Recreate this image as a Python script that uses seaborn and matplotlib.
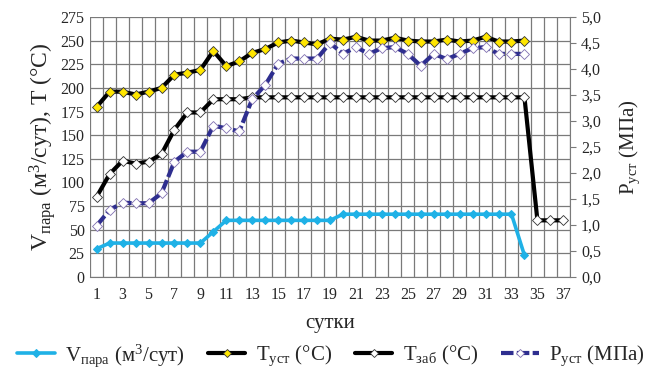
import numpy as np
import pandas as pd
import matplotlib
matplotlib.use('Agg')
import matplotlib.pyplot as plt
from matplotlib.ticker import MultipleLocator, FuncFormatter
import seaborn as sns

# данные
days = list(range(1, 38))
v_para = [30, 36, 36, 36, 36, 36, 36, 36, 36, 48,
          60, 60, 60, 60, 60, 60, 60, 60, 60, 66.5,
          66.5, 66.5, 66.5, 66.5, 66.5, 66.5, 66.5, 66.5, 66.5, 66.5,
          66.5, 66.5, 66.5, 23]
t_ust = [180, 196, 196, 193, 196, 200, 214, 216, 219, 239,
         223, 228, 237, 241, 248, 250, 248, 246, 252, 251,
         254, 250, 250, 253, 250, 249, 249, 251, 249, 250,
         254, 249, 249, 250]
t_zab = [85, 109, 123, 120, 122, 130, 156, 174, 174, 188,
         188, 188, 190, 190, 190, 190, 190, 190, 190, 190,
         190, 190, 190, 190, 190, 190, 190, 190, 190, 190,
         190, 190, 190, 190, 60, 60, 60]
p_ust = [0.99, 1.29, 1.43, 1.42, 1.42, 1.61, 2.22, 2.41, 2.41, 2.91,
         2.86, 2.80, 3.42, 3.69, 4.10, 4.20, 4.20, 4.20, 4.50, 4.29,
         4.42, 4.29, 4.40, 4.42, 4.29, 4.06, 4.29, 4.19, 4.29, 4.40,
         4.42, 4.29, 4.29, 4.29]

sns.set_style('white')
plt.rcParams['font.family'] = ['Liberation Serif', 'DejaVu Serif']
plt.rcParams['mathtext.fontset'] = 'custom'
plt.rcParams['mathtext.rm'] = 'Liberation Serif'
plt.rcParams['mathtext.it'] = 'Liberation Serif:italic'

fig = plt.figure(figsize=(6.49, 3.76), dpi=100)
ax = fig.add_axes([0.139, 0.263, 0.739, 0.692])
ax2 = ax.twinx()

c_v = '#1FB1E6'
c_p = '#2E2E8F'

sns.lineplot(x=days[:len(v_para)], y=v_para, ax=ax, color=c_v, lw=2.6,
             marker='D', markersize=4.5, markerfacecolor=c_v, markeredgecolor=c_v)
sns.lineplot(x=days[:len(t_ust)], y=t_ust, ax=ax, color='black', lw=3,
             marker='D', markersize=5.5, markerfacecolor='#FFE600', markeredgecolor='#333333',
             markeredgewidth=0.6)
sns.lineplot(x=days[:len(t_zab)], y=t_zab, ax=ax, color='black', lw=3,
             marker='D', markersize=5.5, markerfacecolor='white', markeredgecolor='#333333',
             markeredgewidth=0.6)
sns.lineplot(x=days[:len(p_ust)], y=p_ust, ax=ax2, color=c_p, lw=3, linestyle=(0, (3, 0.8)),
             marker='D', markersize=5.5, markerfacecolor='white', markeredgecolor='#8070B0',
             markeredgewidth=0.6)

ax.set_xlim(0.5, 37.5)
ax.set_ylim(0, 275)
ax2.set_ylim(0, 5)
ax.set_xticks(range(1, 38, 2))
ax.set_xticks(np.arange(0.5, 38, 1), minor=True)
ax.yaxis.set_major_locator(MultipleLocator(25))
ax2.yaxis.set_major_locator(MultipleLocator(0.5))
ax2.yaxis.set_major_formatter(FuncFormatter(lambda v, p: f'{v:.1f}'.replace('.', ',')))

ax.grid(False)
ax2.grid(False)
ax.grid(True, which='minor', axis='x', color='#7a7a7a', lw=0.9)
ax.grid(True, which='major', axis='y', color='#7a7a7a', lw=0.9)
ax.set_axisbelow(True)
for s in ['top', 'right', 'left']:
    ax.spines[s].set_visible(False)
    ax2.spines[s].set_visible(False)
ax2.spines['right'].set_visible(True)
ax2.spines['right'].set_color('#7a7a7a')
ax.spines['bottom'].set_color('#7a7a7a')
ax2.spines['bottom'].set_visible(False)

ax.tick_params(axis='x', which='both', length=0, labelsize=11.5, pad=7)
ax.tick_params(axis='y', length=0, labelsize=11.5, pad=4)
ax2.tick_params(axis='y', length=4, color='#7a7a7a', labelsize=11.5, pad=4, direction='out')

ax.set_xlabel('сутки', fontsize=15, labelpad=8)
ax.set_ylabel(r'V$_{\mathrm{пара}}$ (м$^3$/сут), T (°C)', fontsize=17, labelpad=2)
ax2.set_ylabel(r'P$_{\mathrm{уст}}$ (МПа)', fontsize=15, labelpad=12)

labels = [r'V$_{\mathrm{пара}}$ (м$^3$/сут)', r'T$_{\mathrm{уст}}$ (°C)',
          r'T$_{\mathrm{заб}}$ (°C)', r'P$_{\mathrm{уст}}$ (МПа)']
handles = ax.get_lines()[:3] + ax2.get_lines()[:1]
fig.legend(handles, labels, loc='center', bbox_to_anchor=(0.51, 0.055), ncol=4,
           frameon=False, fontsize=15, handlelength=1.8, columnspacing=1.1,
           handletextpad=0.5, markerscale=0.8)

fig.savefig('out.png', dpi=100)
